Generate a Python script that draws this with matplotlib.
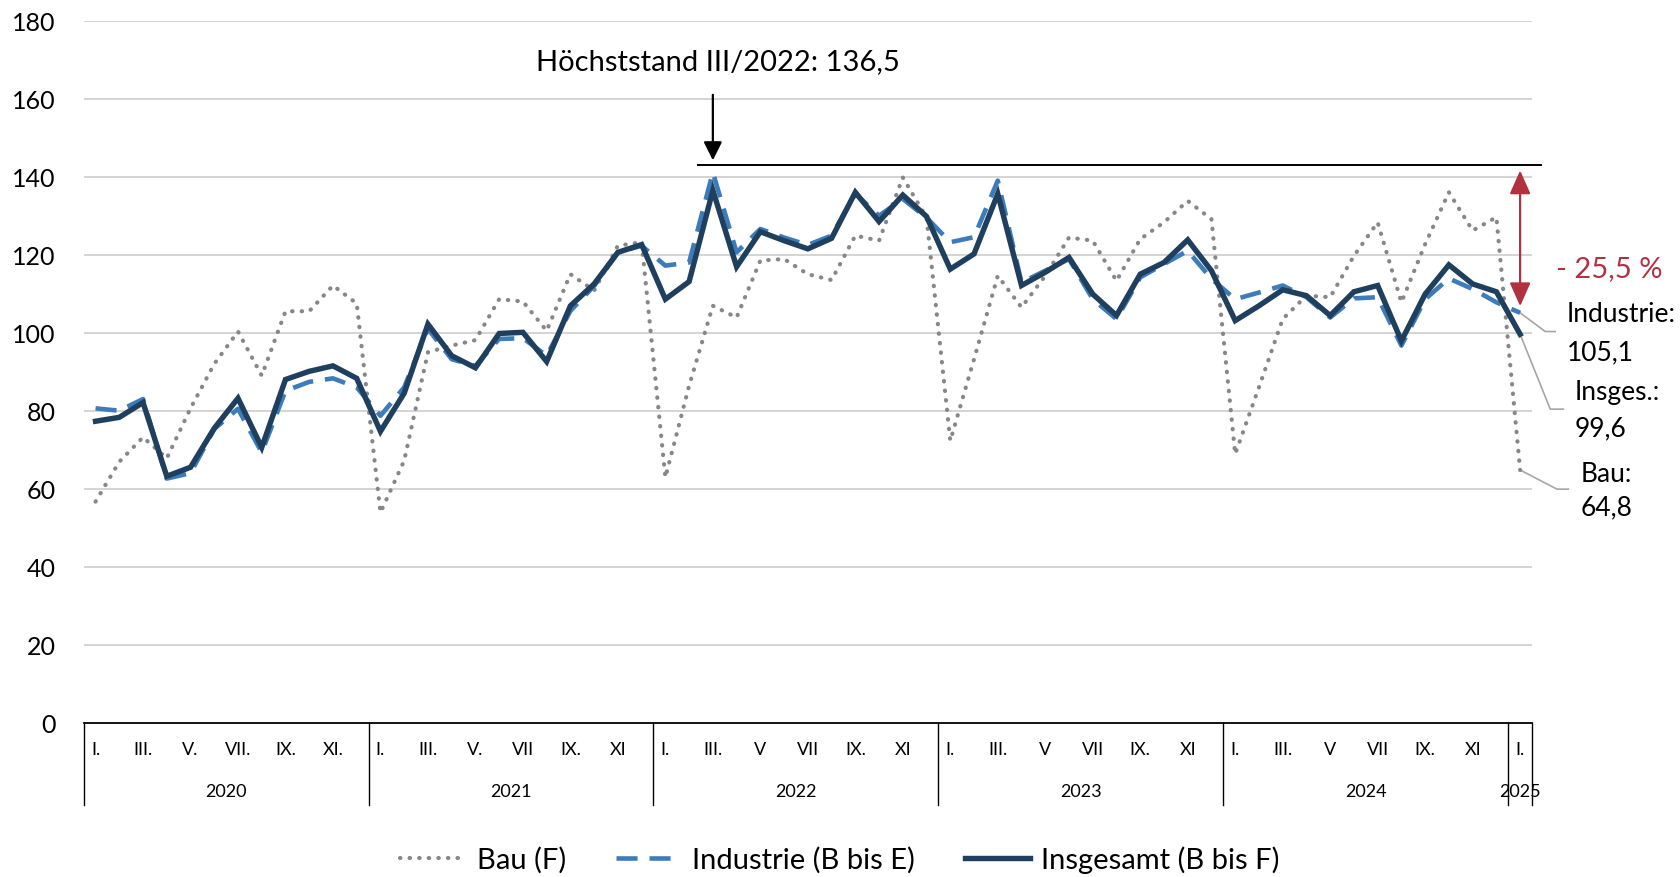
import matplotlib
matplotlib.use("Agg")
import matplotlib.pyplot as plt
from matplotlib.lines import Line2D

plt.rcParams['font.family'] = ['Lato', 'DejaVu Sans']

# ---------------- data ----------------
years = ["2020", "2021", "2022", "2023", "2024", "2025"]
months_per_year = [12, 12, 12, 12, 12, 1]
month_labels = [
    ["I.", "", "III.", "", "V.", "", "VII.", "", "IX.", "", "XI.", ""],
    ["I.", "", "III.", "", "V.", "", "VII", "", "IX.", "", "XI", ""],
    ["I.", "", "III.", "", "V", "", "VII", "", "IX.", "", "XI", ""],
    ["I.", "", "III.", "", "V", "", "VII", "", "IX.", "", "XI", ""],
    ["I.", "", "III.", "", "V", "", "VII", "", "IX.", "", "XI", ""],
    ["I."],
]

bau = [56.7, 66.9, 73.2, 67.8, 80.6, 92.0, 100.3, 89.0, 105.5, 105.5, 112.1, 107.5,
       53.9, 67.2, 95.0, 96.7, 98.1, 108.6, 108.0, 100.5, 115.0, 110.8, 122.3, 123.2,
       62.9, 86.4, 106.9, 103.9, 118.5, 118.9, 115.0, 113.5, 124.9, 123.6, 139.8, 129.5,
       72.3, 93.2, 114.6, 106.5, 114.6, 124.4, 123.6, 113.3, 124.0, 128.3, 133.8, 129.1,
       68.9, 86.0, 103.5, 109.5, 109.1, 119.7, 128.3, 107.8, 122.7, 136.0, 126.2, 129.6,
       64.8]
industrie = [80.6, 80.0, 83.0, 62.6, 64.0, 75.3, 80.5, 69.3, 85.1, 87.4, 88.3, 86.0,
             78.7, 86.0, 101.0, 93.2, 91.5, 98.4, 98.6, 94.1, 105.6, 112.0, 120.6, 122.3,
             117.2, 118.0, 141.1, 120.6, 126.6, 124.4, 122.5, 124.9, 135.6, 130.0, 134.3, 129.5,
             123.2, 124.5, 139.0, 112.9, 115.9, 118.9, 108.6, 103.5, 114.2, 117.6, 121.0, 113.8,
             108.6, 110.3, 112.1, 109.1, 103.9, 108.8, 109.1, 96.7, 108.6, 113.9, 111.2, 107.8,
             105.1]
insgesamt = [77.3, 78.3, 82.1, 63.2, 65.5, 75.5, 83.2, 70.6, 88.0, 90.1, 91.5, 88.3,
             74.7, 84.5, 102.2, 94.1, 91.0, 99.8, 100.1, 92.6, 106.9, 112.5, 120.6, 122.6,
             108.6, 113.1, 136.5, 116.9, 125.9, 123.6, 121.5, 124.2, 136.0, 128.5, 135.3, 129.8,
             116.3, 120.2, 135.6, 112.1, 115.5, 119.3, 109.9, 104.4, 115.0, 118.0, 123.8, 115.9,
             103.1, 106.9, 111.0, 109.5, 104.4, 110.5, 112.1, 97.9, 109.9, 117.4, 112.5, 110.5,
             99.6]

series_names = ["Bau (F)", "Industrie (B bis E)", "Insgesamt (B bis F)"]
peak_text = "Höchststand III/2022: 136,5"
peak_level = 143.0
change_text = "- 25,5 %"
end_labels = [("Industrie:", "105,1"), ("Insges.:", "99,6"), ("Bau:", "64,8")]

# ---------------- styles ----------------
c_bau = "#878787"
c_ind = "#3C7CBA"
c_ins = "#1F3F5E"
c_red = "#B0323F"
c_grid = "#D4D4D4"
fs = 21
bau_ls = (0, (0.1, 2.2))
ind_ls = (0, (4.6, 2.6))

fig = plt.figure(figsize=(16.8, 8.78), dpi=100)
ax = fig.add_axes([0.0498, 0.1757, 0.8621, 0.7996])

n = len(insgesamt)
x = list(range(n))

ax.plot(x, bau, color=c_bau, lw=3.0, linestyle=bau_ls,
        dash_capstyle='round', zorder=3)
ax.plot(x, industrie, color=c_ind, lw=3.3, linestyle=ind_ls,
        dash_capstyle='butt', zorder=4)
ax.plot(x, insgesamt, color=c_ins, lw=3.9, solid_joinstyle='miter', zorder=5)

ax.set_xlim(-0.5, n - 0.5)
ax.set_ylim(0, 180)
ax.set_yticks(range(0, 181, 20))
ax.tick_params(axis='y', length=0, pad=20, labelsize=18)
ax.set_xticks([])
for y in range(20, 181, 20):
    ax.axhline(y, color=c_grid, lw=1.4, zorder=1)
for s in ['left', 'right', 'top']:
    ax.spines[s].set_visible(False)
ax.spines['bottom'].set_color('black')
ax.spines['bottom'].set_linewidth(1.3)

# category axis (two levels)
xt = ax.get_xaxis_transform()
pos = 0
bounds = [-0.5]
for yi, (yr, nm) in enumerate(zip(years, months_per_year)):
    for m in range(nm):
        lab = month_labels[yi][m]
        if lab:
            ax.text(pos + m, -0.0375, lab, transform=xt, ha='center', va='center',
                    fontsize=13)
    ax.text(pos + (nm - 1) / 2, -0.0973, yr, transform=xt, ha='center', va='center',
            fontsize=13)
    pos += nm
    bounds.append(pos - 0.5)
for b in bounds:
    ax.plot([b, b], [0, -0.117], transform=xt, color='black', lw=1.0, clip_on=False)

# peak annotation
ax.plot([25.38, 60.9], [peak_level, peak_level], color='black', lw=1.4, clip_on=False,
        zorder=6)
ax.annotate("", xy=(26, peak_level + 1.2), xytext=(26, 161),
            arrowprops=dict(arrowstyle='-|>,head_length=0.8,head_width=0.4',
                            mutation_scale=14, color='black', lw=1.6,
                            shrinkA=0, shrinkB=0))
ax.text(26.2, 169.7, peak_text, ha='center', va='center', fontsize=fs)

# red change arrow
ax.annotate("", xy=(60, 106.8), xytext=(60, 141.6), annotation_clip=False,
            arrowprops=dict(arrowstyle='<|-|>,head_length=0.9,head_width=0.4',
                            mutation_scale=16, color=c_red, lw=1.6,
                            shrinkA=0, shrinkB=0))
ax.text(61.5, 116.6, change_text, ha='left', va='center', fontsize=fs, color=c_red)

# end labels with leader lines
leaders = [
    ([60.0, 61.06, 61.48], [105.1, 100.3, 100.3]),
    ([60.0, 61.27, 61.82], [99.6, 80.4, 80.4]),
    ([60.0, 61.55, 62.03], [64.8, 59.9, 59.9]),
]
for lx, ly in leaders:
    ax.plot(lx, ly, color='#A6A6A6', lw=1.2, clip_on=False, zorder=2)
label_pos = [(61.95, 104.8, 95.05), (62.3, 84.9, 75.6), (62.55, 63.8, 55.3)]
for (l1, l2), (lx, y1, y2) in zip(end_labels, label_pos):
    ax.text(lx, y1, l1, ha='left', va='center', fontsize=19)
    ax.text(lx, y2, l2, ha='left', va='center', fontsize=19)

# legend
handles = [
    Line2D([], [], color=c_bau, lw=3.0, linestyle=bau_ls, dash_capstyle='round'),
    Line2D([], [], color=c_ind, lw=3.3, linestyle=ind_ls),
    Line2D([], [], color=c_ins, lw=3.9),
]
fig.legend(handles, series_names, loc='center', bbox_to_anchor=(0.5, 0.0205), ncol=3,
           frameon=False, fontsize=fs, handlelength=2.25, handletextpad=0.37,
           columnspacing=1.7)

fig.savefig("out.png", dpi=100)
